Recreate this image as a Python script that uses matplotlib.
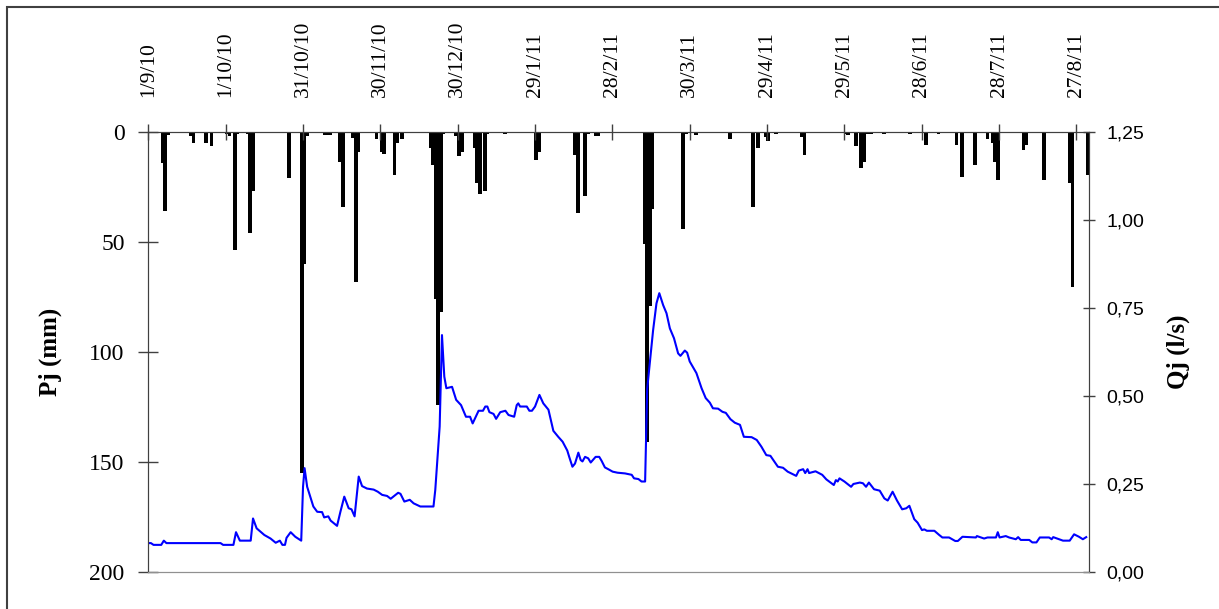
import numpy as np
import matplotlib
matplotlib.use('Agg')
import matplotlib.pyplot as plt
from matplotlib.patches import Rectangle

# daily rainfall (day index from 1/9/10, mm)
p_day = [5, 6, 7, 16, 17, 22, 24, 30, 31, 33, 34, 38, 39, 40, 54, 59, 60, 61,
         68, 69, 70, 74, 75, 79, 80, 81, 88, 90, 91, 95, 96, 98, 109, 110, 111,
         112, 113, 114, 119, 120, 121, 126, 127, 128, 130, 131, 138, 150, 151,
         165, 166, 169, 170, 173, 174, 192, 193, 194, 195, 207, 208, 212, 225,
         234, 236, 239, 240, 243, 253, 254, 270, 271, 274, 276, 277, 278, 279,
         280, 285, 295, 301, 306, 313, 315, 320, 325, 327, 328, 329, 339, 340,
         347, 357, 358, 364]
p_mm = [14, 36, 1.5, 2, 5, 5, 6.5, 1, 2, 53.6, 1, 1, 46, 27, 21, 155, 60, 2,
        1.5, 1.5, 1.5, 13.5, 34, 2.7, 68, 9, 3, 9, 10, 19.5, 5, 3, 7.4, 15, 76,
        124, 82, 1, 2, 11, 9, 7.4, 23, 28, 27, 1, 1, 12.7, 9,
        10.5, 37, 29, 1, 2, 2, 51, 141, 79, 35, 44, 1, 1.5, 3,
        34, 7.4, 2.5, 4, 1, 2.5, 10.5, 1, 1.5, 6.5, 16.5, 13.5, 1, 1,
        1, 1, 1, 6, 1, 6, 20.6, 15, 3, 5, 13.5, 22, 8, 6,
        22, 23, 70.6, 19.5]

# discharge (day, l/s)
q_day = [0.5, 1, 2, 5, 6, 7, 28, 29, 33, 34, 35.5, 39.7, 40.6, 42, 45, 47.4,
         49.4, 51, 52, 53, 53.6, 55.2, 57, 59.3, 60, 60.6, 61.6, 64, 65.5,
         67.4, 68.2, 69.8, 70.7, 73.2, 74.5, 76, 77.7, 78.8, 80, 81.6, 82.9,
         84.8, 87.4, 89, 90.7, 92.6, 94, 96.9, 97.8, 99.3, 101.4, 102.9, 105.5,
         110.6, 111.3, 113, 113.9, 114.8, 115.6, 117.8, 119.4, 121.3, 123.2,
         124.8, 125.8, 128.1, 129.8, 130.7, 131.5, 132.3, 133.9, 134.9, 136.5,
         138.5, 139.7, 141.9, 142.9, 143.5, 144.2, 146.8, 147.8, 148.8, 150,
         151.7, 153.2, 155.2, 157.1, 159, 160.7, 162.5, 163.3, 164.5, 165.5,
         166.8, 167.7, 168.4, 169.4, 170.6, 171.6, 173.5, 174.9, 175.8, 177.1,
         178.4, 180.1, 182, 184.9, 187.5, 188.4, 190.1, 191.3, 192.7, 193.5,
         194.5, 195.8, 197.1, 198.2, 199.7, 201, 202.3, 203.9, 205.5, 206.4,
         208.1, 209, 210, 212.6, 214.6, 216.2, 217.8, 219, 221, 222.7, 224,
         225.8, 227.5, 229.5, 231, 234, 236, 237.8, 239.7, 241.3, 244.2,
         246.2, 248, 251.3, 252.3, 254, 254.8, 255.7, 256.3, 258.8, 261.4,
         263, 265.9, 266.7, 267.4, 268.1, 270, 272.6, 273.5, 276, 277.2, 278.4,
         279.5, 281.5, 283.7, 285.5, 286.8, 288.7, 290.4, 292.4, 294, 295.2,
         297.1, 298.4, 300.1, 301, 302, 304.9, 306.8, 308, 310.6, 313, 314,
         315.8, 321, 321.4, 324.2, 325.5, 328.8, 329.5, 330.2, 332.6, 333.9,
         336.5, 337.4, 338.4, 341.7, 342.9, 344.5, 345.8, 349.4, 350.4, 351,
         353.3, 354.8, 357.4, 359.1, 361, 362.5, 363.8]
q_val = [0.082, 0.082, 0.077, 0.077, 0.089, 0.082, 0.082, 0.077, 0.077, 0.113,
         0.089, 0.089, 0.152, 0.124, 0.105, 0.095, 0.083, 0.089, 0.077, 0.077,
         0.097, 0.113, 0.100, 0.089, 0.242, 0.295, 0.242, 0.186, 0.171, 0.170,
         0.155, 0.158, 0.146, 0.131, 0.171, 0.214, 0.181, 0.178, 0.158, 0.271,
         0.244, 0.237, 0.234, 0.228, 0.219, 0.216, 0.208, 0.225, 0.222, 0.200,
         0.205, 0.195, 0.186, 0.186, 0.233, 0.413, 0.673, 0.555, 0.522, 0.526,
         0.489, 0.474, 0.441, 0.441, 0.422, 0.458, 0.458, 0.470, 0.470, 0.454,
         0.449, 0.435, 0.454, 0.458, 0.446, 0.441, 0.474, 0.479, 0.470, 0.470,
         0.458, 0.458, 0.470, 0.503, 0.479, 0.461, 0.401, 0.384, 0.370, 0.345,
         0.326, 0.299, 0.308, 0.339, 0.318, 0.314, 0.327, 0.323, 0.311, 0.327,
         0.327, 0.316, 0.297, 0.292, 0.285, 0.282, 0.280, 0.276, 0.266, 0.264,
         0.257, 0.257, 0.520, 0.593, 0.687, 0.763, 0.792, 0.758, 0.735, 0.692,
         0.664, 0.621, 0.614, 0.629, 0.623, 0.598, 0.565, 0.522, 0.494, 0.481,
         0.465, 0.464, 0.455, 0.452, 0.434, 0.424, 0.418, 0.384, 0.383, 0.375,
         0.356, 0.332, 0.330, 0.299, 0.296, 0.285, 0.273, 0.288, 0.292, 0.281,
         0.292, 0.281, 0.286, 0.276, 0.263, 0.247, 0.261, 0.257, 0.266, 0.257,
         0.242, 0.250, 0.254, 0.252, 0.242, 0.254, 0.235, 0.231, 0.209, 0.203,
         0.228, 0.203, 0.178, 0.181, 0.188, 0.150, 0.140, 0.119, 0.121, 0.117,
         0.117, 0.105, 0.098, 0.098, 0.088, 0.088, 0.100, 0.098, 0.102, 0.095,
         0.098, 0.098, 0.113, 0.098, 0.102, 0.098, 0.093, 0.099, 0.091, 0.091,
         0.084, 0.084, 0.098, 0.098, 0.093, 0.099, 0.093, 0.089, 0.089, 0.107,
         0.100, 0.093, 0.099]

date_ticks = [0, 30, 60, 90, 120, 150, 180, 210, 240, 270, 300, 330, 360]
date_labels = ['1/9/10', '1/10/10', '31/10/10', '30/11/10', '30/12/10', '29/1/11',
               '28/2/11', '30/3/11', '29/4/11', '29/5/11', '28/6/11', '28/7/11',
               '27/8/11']
p_ticks = [0, 50, 100, 150, 200]
q_ticks = [0, 0.25, 0.5, 0.75, 1.0, 1.25]
q_labels = ['0,00', '0,25', '0,50', '0,75', '1,00', '1,25']

serif = 'Liberation Serif'
sans = 'Liberation Sans'
edge = '#404040'

fig = plt.figure(figsize=(12.19, 6.09), dpi=100)
ax = fig.add_axes([0.1217, 0.0608, 0.7719, 0.7225])

ax.bar(np.array(p_day) + 0.5, p_mm, width=1.5, color='black', linewidth=0)
ax.set_ylim(200, 0)
ax.set_xlim(0, 365)
ax.set_yticks(p_ticks)
ax.set_yticklabels([str(v) for v in p_ticks], fontfamily=serif, fontsize=17)
ax.set_ylabel('Pj (mm)', fontfamily=serif, fontsize=18, fontweight='bold', labelpad=20)

ax.xaxis.tick_top()
ax.set_xticks(date_ticks)
ax.set_xticklabels(date_labels, rotation=90, fontfamily=serif, fontsize=15.5)
ax.tick_params(axis='x', direction='inout', length=12, width=1, color=edge, pad=19)
ax.tick_params(axis='y', direction='inout', length=14, width=1, color=edge, pad=10)

ax2 = ax.twinx()
ax2.plot(q_day, q_val, color='#0000ff', lw=1.5)
ax2.set_ylim(0, 1.25)
ax2.set_yticks(q_ticks)
ax2.set_yticklabels(q_labels, fontfamily=sans, fontsize=14)
ax2.tick_params(axis='y', direction='inout', length=9, width=1, color=edge, pad=8)
ax2.set_ylabel('Qj (l/s)', fontfamily=serif, fontsize=18, fontweight='bold', labelpad=16)

for a in (ax, ax2):
    a.spines['top'].set_color(edge)
    a.spines['left'].set_color(edge)
    a.spines['right'].set_color(edge)
    a.spines['bottom'].set_color('#909090')

fig.patches.append(Rectangle((7 / 1219, -0.1), 1.1, 1.1 - 7 / 609, transform=fig.transFigure,
                             fill=False, edgecolor=edge, linewidth=1.5))

plt.savefig('out.png', dpi=100)
